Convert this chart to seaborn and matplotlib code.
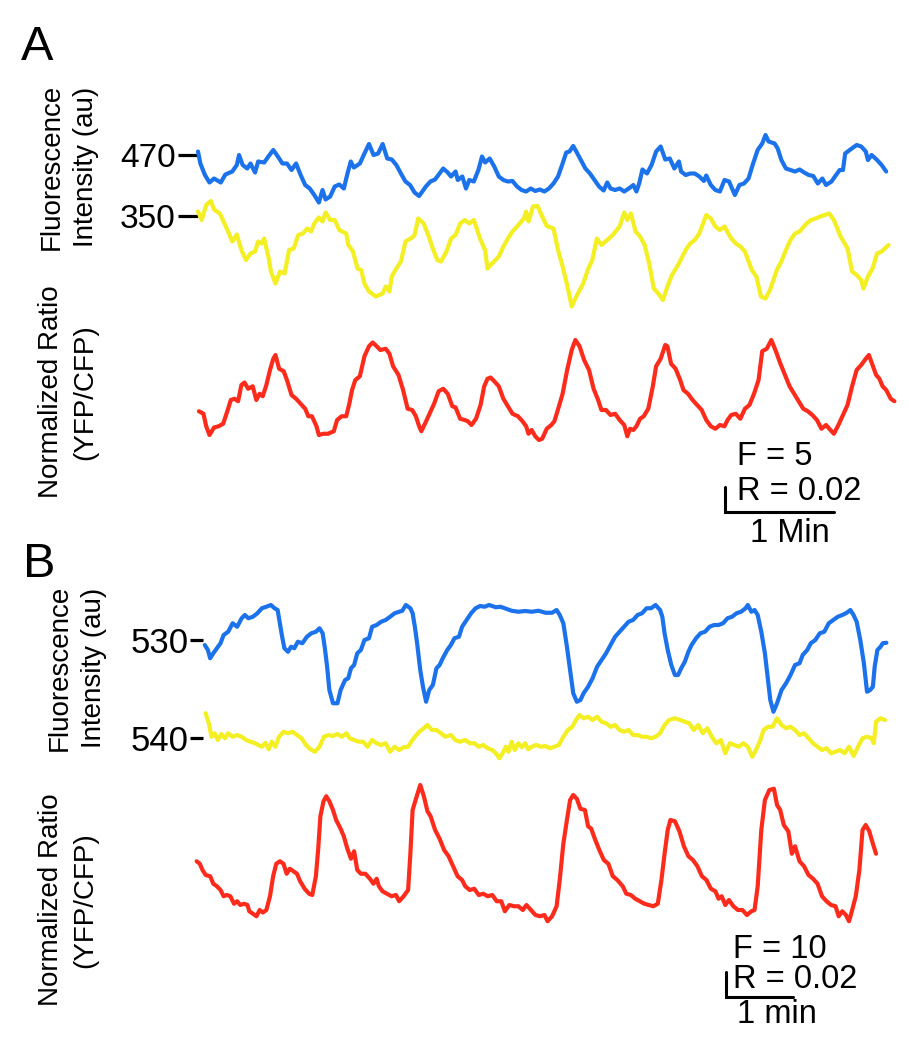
import matplotlib
matplotlib.use("Agg")
import matplotlib.pyplot as plt
import numpy as np
import seaborn as sns

# ---------------- data (time in s, intensity in au, ratio normalized) ----------------
a_blue_t = [0, 1.3, 3.8, 6.3, 8.8, 12.5, 15, 18.8, 21.3, 22.5,
            24.5, 27, 28.8, 31.3, 33, 36.3, 38.8, 41.3, 43.8, 46.3,
            48.8, 51.3, 53.8, 56.3, 58.8, 61.3, 63.8, 66.3, 68.3, 70,
            72.5, 75, 77.5, 80, 82, 83.8, 85.5, 88.8, 91.3, 93.8,
            96.3, 98.8, 101.3, 103.8, 106.3, 108.8, 111.3, 113.8, 116.3, 118.8,
            121.3, 125, 127.5, 130, 132.5, 134.5, 137, 138.8, 141.3, 142.5,
            145, 147, 148.8, 151.3, 153.8, 155.8, 157.5, 160, 162.5, 165,
            167.5, 170, 172.5, 175, 177.5, 180, 182.5, 185, 187.5, 190,
            192.5, 195, 197.5, 200, 202, 203.8, 205.8, 207.5, 210, 212.5,
            215, 217.5, 220, 222.5, 224.5, 226.3, 228.8, 231.3, 233.8, 236.3,
            238.8, 240.5, 242, 243.8, 246.3, 248.8, 251.3, 253.8, 256.3, 258.8,
            261.3, 263.8, 265, 267.5, 270, 272.5, 275, 277.5, 278.8, 281.3,
            283.8, 286.3, 288.8, 291.3, 294.5, 297, 299.5, 302, 304.5, 307,
            309.5, 311.3, 313, 316.3, 318, 320, 322.5, 325, 327.5, 330,
            332.5, 335, 337.5, 340, 342.5, 344.5, 347.5, 350, 352, 353.8,
            355, 357.5, 361.3, 363.8, 366.3, 367.5, 369.5, 372.5, 375, 377.5]
a_blue_v = [470.7, 468.3, 466.0, 464.5, 465.3, 464.5, 466.1, 466.7, 468.0, 470.0,
            468.0, 467.3, 468.3, 466.5, 468.7, 468.5, 469.8, 471.0, 469.7, 468.3,
            468.3, 467.0, 468.3, 466.0, 464.0, 463.3, 462.0, 460.5, 463.0, 461.1,
            461.7, 463.7, 464.1, 463.3, 466.3, 468.7, 467.5, 468.3, 470.3, 472.2,
            470.0, 470.3, 472.2, 469.3, 469.1, 468.0, 466.3, 464.7, 464.0, 462.5,
            461.8, 463.7, 464.7, 465.1, 466.3, 467.3, 466.5, 465.7, 466.7, 465.0,
            465.7, 463.3, 465.0, 464.7, 467.0, 469.7, 468.5, 469.3, 467.7, 465.7,
            465.0, 464.7, 464.8, 463.7, 463.0, 462.7, 463.3, 462.8, 463.1, 462.7,
            463.3, 464.3, 465.7, 468.3, 470.5, 470.7, 471.8, 470.7, 469.0, 467.3,
            466.3, 465.0, 463.7, 462.9, 464.5, 463.3, 463.0, 463.3, 462.7, 463.3,
            464.0, 462.7, 464.3, 467.1, 466.3, 468.0, 470.7, 471.7, 469.1, 469.3,
            467.3, 468.7, 466.7, 466.0, 466.3, 466.3, 465.7, 464.8, 465.9, 464.0,
            463.0, 462.7, 465.0, 464.7, 462.0, 464.0, 464.3, 465.3, 468.3, 471.0,
            472.3, 474.0, 472.7, 472.3, 471.3, 469.0, 467.3, 467.0, 466.7, 467.1,
            466.5, 466.0, 465.8, 464.3, 465.3, 464.0, 464.7, 466.0, 467.0, 467.0,
            470.3, 471.0, 472.0, 471.7, 470.7, 469.0, 470.0, 469.0, 468.0, 466.7]

a_yellow_t = [0, 2, 4.5, 7, 8.8, 12, 14.5, 17, 18.8, 21.3,
              23.8, 26.3, 28.8, 31.3, 33, 35, 36.3, 38.8, 40, 42.5,
              45, 47.5, 50, 52.5, 55, 57.5, 60, 62, 63.8, 66.3,
              68.3, 70, 72.5, 75, 77.5, 81.3, 82.5, 85, 87.5, 89.5,
              91.3, 93.8, 97.5, 101.3, 103, 105, 106.3, 108.8, 111.3, 113.8,
              117.5, 118.8, 120.8, 123.8, 126.3, 128.8, 131.3, 133.3, 136.3, 138.8,
              141.3, 143.8, 146.3, 148.8, 151.3, 155, 157.5, 158.8, 161.3, 165,
              167.5, 170, 172.5, 175, 178.8, 180, 181.3, 183.8, 186.3, 188.8,
              191.3, 195, 197.5, 200, 202.5, 205, 207.5, 211.3, 213.8, 216.3,
              218.8, 221.3, 224.5, 227.5, 231.3, 233.8, 235.5, 237.5, 240, 242.5,
              245, 247.5, 250, 252.5, 255, 257.5, 260, 263.8, 267.5, 270,
              272.5, 275, 278.8, 281.3, 283.8, 286.3, 288.8, 292.5, 295, 297.5,
              300, 303.8, 306.3, 308.8, 311.3, 313.8, 317.5, 320, 322.5, 325,
              327.5, 330, 333.8, 336.3, 338.8, 341.3, 343.8, 346.3, 348.8, 352.5,
              356.3, 358.8, 361.3, 363.8, 365, 367.5, 370, 372.5, 375, 378.8]
a_yellow_v = [350.9, 349.2, 352.2, 353.0, 351.3, 350.5, 348.5, 346.5, 344.9, 346.3,
              343.2, 341.2, 342.5, 342.9, 344.9, 344.5, 345.5, 341.5, 338.9, 336.5,
              338.9, 338.5, 343.2, 343.5, 346.2, 346.5, 347.5, 346.9, 348.5, 349.7,
              348.9, 350.7, 349.2, 349.2, 347.2, 346.5, 344.2, 342.9, 339.5, 339.2,
              336.5, 334.9, 333.9, 334.5, 335.9, 334.9, 337.9, 339.5, 340.9, 344.9,
              345.7, 346.2, 349.5, 348.5, 346.2, 343.5, 341.2, 340.9, 342.9, 345.5,
              346.2, 348.5, 349.2, 348.5, 349.2, 345.2, 343.2, 339.5, 340.5, 341.9,
              343.9, 345.5, 346.9, 347.9, 349.5, 350.9, 348.9, 351.9, 352.0, 349.9,
              348.0, 347.5, 343.2, 339.9, 336.2, 331.9, 333.9, 336.5, 339.2, 341.2,
              345.5, 344.2, 345.2, 346.2, 347.9, 350.7, 349.2, 350.5, 346.9, 345.9,
              344.2, 340.5, 335.5, 334.5, 333.2, 335.9, 338.2, 340.5, 343.2, 344.5,
              345.2, 346.5, 350.2, 349.5, 347.9, 347.2, 347.9, 345.5, 344.5, 343.9,
              342.9, 339.2, 337.9, 333.9, 333.5, 335.2, 339.2, 340.9, 343.2, 345.2,
              346.5, 346.9, 348.5, 349.2, 349.5, 349.9, 350.2, 350.5, 349.2, 345.9,
              343.5, 338.9, 338.2, 337.2, 335.5, 337.9, 339.5, 342.5, 342.9, 344.2]

a_red_t = [0.5, 3, 4.5, 6.3, 8.8, 11.3, 13.8, 16.3, 18, 20,
           22, 23.8, 25.5, 27.5, 30, 32, 33.8, 35.5, 37.5, 39.5,
           41.3, 42.5, 44.5, 47, 48.8, 51.3, 53.8, 56.3, 58.8, 60.5,
           62.5, 65, 66.3, 68.8, 71.3, 74.5, 76.3, 78.8, 81.3, 83,
           84.5, 86.3, 88.8, 91.3, 93.8, 95.8, 98, 100, 103, 105,
           107, 110, 112.5, 115, 117.5, 119.5, 121.3, 122.5, 124.5, 127,
           129.5, 132, 134.5, 137, 139.5, 141.3, 143.8, 146.3, 148, 150,
           152.5, 155, 157, 158.8, 160.5, 162.5, 165, 167.5, 170, 172.5,
           175.5, 178, 180, 181.3, 183, 185, 187, 188.8, 191.3, 193.8,
           195.5, 198, 200, 202.5, 205, 207, 209.3, 211.8, 214.5, 217,
           219.5, 221.3, 223.8, 226.3, 228.8, 231.3, 233.8, 235.5, 237, 238.8,
           240.5, 242.5, 244.5, 247, 249.5, 251.3, 253.8, 256.3, 257.5, 259.5,
           262, 264.5, 266.3, 268.8, 271.3, 273.8, 276.3, 278.8, 281.3, 283.8,
           286.3, 288.8, 290.5, 292.5, 295, 297.5, 300, 302.5, 305, 307.5,
           309.5, 312, 314.5, 317, 319.5, 322, 324.5, 327, 329.5, 332,
           334.5, 337, 339.5, 342, 344.5, 346.3, 348.8, 351.3, 353.8, 356.3,
           358.8, 361.3, 363.8, 366.3, 368, 370, 372, 373.8, 375.5, 377.5,
           380, 382]
a_red_v = [1.027, 1.025, 1.015, 1.008, 1.014, 1.015, 1.017, 1.028, 1.036, 1.037,
           1.035, 1.048, 1.050, 1.045, 1.047, 1.036, 1.041, 1.039, 1.048, 1.060,
           1.069, 1.072, 1.061, 1.059, 1.052, 1.040, 1.037, 1.033, 1.029, 1.023,
           1.023, 1.015, 1.008, 1.009, 1.009, 1.011, 1.020, 1.023, 1.023, 1.033,
           1.044, 1.052, 1.055, 1.071, 1.079, 1.082, 1.079, 1.076, 1.077, 1.073,
           1.063, 1.056, 1.044, 1.029, 1.028, 1.023, 1.015, 1.011, 1.017, 1.025,
           1.033, 1.043, 1.045, 1.041, 1.031, 1.030, 1.021, 1.020, 1.019, 1.016,
           1.021, 1.032, 1.047, 1.053, 1.054, 1.051, 1.047, 1.037, 1.031, 1.025,
           1.023, 1.019, 1.015, 1.009, 1.012, 1.007, 1.004, 1.005, 1.013, 1.016,
           1.019, 1.031, 1.041, 1.060, 1.076, 1.084, 1.079, 1.068, 1.060, 1.045,
           1.036, 1.028, 1.028, 1.024, 1.025, 1.020, 1.016, 1.007, 1.013, 1.012,
           1.015, 1.021, 1.023, 1.029, 1.047, 1.063, 1.069, 1.080, 1.079, 1.065,
           1.061, 1.052, 1.044, 1.041, 1.036, 1.032, 1.028, 1.020, 1.015, 1.013,
           1.016, 1.015, 1.020, 1.024, 1.025, 1.021, 1.029, 1.032, 1.041, 1.052,
           1.075, 1.077, 1.084, 1.075, 1.065, 1.056, 1.047, 1.041, 1.035, 1.029,
           1.027, 1.024, 1.020, 1.013, 1.016, 1.013, 1.009, 1.016, 1.024, 1.032,
           1.047, 1.060, 1.064, 1.069, 1.072, 1.064, 1.056, 1.053, 1.047, 1.044,
           1.037, 1.035]

b_blue_t = [6, 8.8, 10.8, 13.6, 16.8, 20, 22.8, 26.8, 30.8, 34.8,
            38.8, 41.6, 44.8, 48.8, 52.8, 56.8, 60.8, 64.8, 68, 70.8,
            72.8, 74.8, 76.8, 80, 82.8, 85.6, 88.8, 92.8, 96.8, 100.8,
            104.8, 108, 110.8, 112.8, 114.8, 116.8, 120, 124, 126.8, 130.8,
            133.6, 136, 138.8, 141.6, 144.8, 148, 152, 154.8, 158.8, 162.8,
            166.8, 170.8, 174.8, 178.8, 181.6, 184.8, 188.8, 190.8, 192.8, 194.8,
            197.6, 200, 202.8, 205.6, 208.8, 212, 214.8, 217.6, 221.6, 224.8,
            228, 232, 234.8, 238.8, 242.8, 246.8, 250.8, 254.8, 258.8, 264.8,
            268.8, 272.8, 278.8, 284.8, 290.8, 296.8, 302.8, 308.8, 314.8, 318.8,
            321.6, 324.8, 328, 330.8, 333.6, 336.8, 340, 342.8, 346.8, 350.8,
            354.8, 358.8, 362.8, 366.8, 370.8, 374.8, 378.8, 382.8, 386.8, 390.8,
            394.8, 398.8, 402.8, 406.8, 410.8, 412.8, 414.8, 417.6, 420.8, 424,
            426.8, 429.6, 432.8, 436, 438.8, 442.8, 446.8, 450.8, 454.8, 458.8,
            462.8, 466.8, 470.8, 474.8, 478.8, 482.8, 486.8, 488.8, 492, 494.8,
            497.6, 500.8, 504, 506.8, 508.8, 511.6, 514.8, 518.8, 522.8, 526.8,
            530.8, 534.8, 537.6, 541.6, 544.8, 548.8, 552.8, 556.8, 560.8, 564.8,
            568.8, 572.8, 576.8, 580, 582.8, 585.6, 588.8, 592, 594.8, 597.6,
            600, 601.6, 604, 606.8, 608.8, 612]
b_blue_v = [528.0, 526.0, 522.7, 524.7, 526.7, 528.7, 532.0, 533.3, 536.7, 535.3,
            538.7, 540.0, 538.7, 539.3, 540.7, 542.7, 543.3, 544.0, 542.7, 542.0,
            536.7, 531.3, 526.7, 525.3, 527.3, 526.7, 529.3, 528.7, 531.3, 532.7,
            533.3, 534.7, 532.7, 526.7, 519.3, 510.0, 504.7, 504.7, 510.0, 514.0,
            514.7, 518.7, 520.0, 524.7, 526.0, 530.0, 530.7, 535.3, 536.0, 537.3,
            538.0, 539.3, 540.7, 541.3, 541.7, 544.0, 542.7, 540.7, 535.3, 528.7,
            518.0, 511.3, 505.3, 510.0, 512.0, 518.7, 520.0, 522.7, 526.0, 528.0,
            530.7, 531.3, 535.3, 538.0, 540.7, 542.7, 543.6, 543.3, 544.0, 543.1,
            543.3, 542.7, 541.7, 541.3, 541.6, 541.3, 541.7, 540.9, 540.9, 542.0,
            540.0, 536.7, 527.3, 518.0, 508.7, 505.3, 506.0, 508.7, 511.3, 514.7,
            519.3, 522.0, 524.7, 528.0, 531.3, 533.3, 535.3, 537.3, 538.0, 540.0,
            540.7, 542.7, 542.7, 544.0, 542.0, 539.3, 532.7, 526.0, 520.0, 516.0,
            516.0, 518.7, 521.3, 525.3, 528.0, 530.7, 532.7, 533.3, 535.3, 536.0,
            536.0, 536.7, 538.7, 539.3, 540.7, 541.3, 542.7, 544.0, 541.3, 542.0,
            540.0, 533.3, 524.7, 514.0, 506.0, 501.3, 504.7, 510.0, 512.7, 516.0,
            520.0, 520.7, 524.0, 526.0, 528.7, 530.0, 532.7, 533.3, 536.7, 538.0,
            539.3, 540.0, 540.9, 542.0, 540.0, 537.3, 530.0, 520.7, 509.3, 510.0,
            511.3, 519.3, 526.0, 527.3, 528.7, 528.9]

b_yellow_t = [6.8, 9.6, 12, 14.8, 17.6, 20.8, 24, 26.8, 30.8, 34.8,
              38.8, 42.8, 46.8, 50.8, 53.6, 56.8, 60, 62.8, 65.6, 68.8,
              72, 76, 80, 84, 88, 92, 96, 100, 104, 108,
              112, 116, 120, 124, 128, 132, 134.8, 138.8, 142.8, 146.8,
              150.8, 154.8, 158.8, 162.8, 166.8, 170.8, 174.8, 178.8, 182.8, 186.8,
              189.6, 192.8, 196.8, 200.8, 204, 208, 212, 216, 220, 224.8,
              228.8, 232.8, 237.6, 241.6, 245.6, 249.6, 253.6, 257.6, 261.6, 264.8,
              268, 270.8, 273.6, 276, 278.8, 281.6, 284.8, 288, 290.8, 293.6,
              296.8, 300.8, 304.8, 308.8, 312.8, 316.8, 320.8, 324.8, 328.8, 332.8,
              336, 339.2, 342.8, 346.8, 350.8, 354.8, 358.8, 362.8, 366.8, 370.8,
              374.8, 378.8, 382.8, 386.8, 390.8, 394.8, 398.8, 402.8, 406.8, 410.8,
              414.8, 418.8, 424, 428.8, 432.8, 436.8, 440.8, 444.8, 448.8, 452.8,
              456.8, 460.8, 464.8, 468.8, 472.8, 476.8, 480.8, 484.8, 488.8, 492.8,
              496, 500, 502.8, 506.8, 510.8, 514.8, 518.8, 522.8, 526.8, 530.8,
              534.8, 538.8, 542.8, 546.8, 550.8, 554.8, 558.8, 562.8, 566.8, 570.8,
              574.8, 578.8, 582.8, 586.8, 590.8, 594.8, 598.8, 600.8, 602.8, 606.8,
              610.8]
b_yellow_v = [549.9, 545.9, 540.5, 541.9, 539.2, 541.6, 539.9, 541.9, 540.5, 541.2,
              540.5, 539.2, 538.5, 537.9, 537.2, 536.5, 538.1, 535.5, 538.5, 536.5,
              540.5, 542.5, 541.9, 542.5, 541.2, 539.9, 537.2, 535.5, 534.5, 536.5,
              540.5, 541.2, 540.8, 541.6, 540.5, 541.9, 539.9, 539.2, 538.5, 538.5,
              536.5, 539.2, 537.9, 537.2, 537.9, 534.5, 536.5, 535.2, 536.3, 536.5,
              538.5, 540.5, 542.5, 543.9, 545.2, 543.2, 543.2, 541.9, 540.5, 541.2,
              539.2, 538.5, 539.2, 537.9, 537.9, 536.5, 537.2, 535.9, 535.2, 533.9,
              531.9, 533.9, 536.5, 534.5, 538.5, 535.2, 537.9, 536.3, 537.9, 535.5,
              536.5, 537.2, 536.5, 536.8, 535.9, 536.5, 537.2, 540.5, 543.2, 544.5,
              547.2, 549.2, 547.9, 548.5, 547.2, 548.5, 546.5, 545.9, 544.5, 545.2,
              543.2, 542.5, 543.2, 541.2, 541.2, 540.5, 540.5, 539.9, 540.5, 541.9,
              545.2, 547.2, 547.9, 547.2, 546.5, 545.9, 543.2, 545.2, 541.9, 543.9,
              540.5, 537.9, 539.2, 533.9, 537.9, 537.2, 536.5, 537.9, 536.5, 532.5,
              535.2, 539.2, 543.2, 544.5, 544.5, 547.9, 545.2, 543.9, 544.5, 543.2,
              541.2, 541.9, 539.9, 537.9, 536.5, 535.2, 535.9, 533.9, 534.5, 535.2,
              533.9, 536.5, 532.8, 536.5, 539.9, 540.5, 539.9, 537.9, 546.5, 547.9,
              547.2]

b_red_t = [-1.2, 1.6, 4, 6.8, 10.8, 13.6, 16.8, 20, 22.8, 25.6,
           28.8, 32, 34.8, 37.6, 40.8, 44, 45.6, 48.8, 52, 54.8,
           57.6, 60.8, 64, 66.8, 69.6, 72.8, 76, 78.8, 81.6, 84.8,
           88, 90.8, 94.8, 98.8, 101.6, 104.8, 106.8, 108.8, 111.6, 114,
           116.8, 120, 122.8, 126.8, 129.6, 132.8, 136, 138.8, 141.6, 144.8,
           148.8, 152.8, 156, 158.8, 160.8, 164, 168, 172, 176, 178.8,
           182.8, 186.8, 188.8, 190.8, 194.8, 197.6, 200.8, 204, 206.8, 210.8,
           214.8, 218.8, 222.8, 226.8, 230.8, 234.8, 237.6, 241.6, 245.6, 249.6,
           253.6, 257.6, 261.6, 265.6, 269.6, 272.8, 276.8, 280.8, 284.8, 288.8,
           292, 296, 300, 304, 308, 310.8, 314.8, 318.8, 321.6, 324.8,
           328, 330.8, 333.6, 336.8, 340, 344, 346.8, 349.6, 352.8, 356.8,
           360.8, 364.8, 368.8, 372.8, 377.6, 380.8, 384.8, 388.8, 392.8, 396.8,
           400.8, 404.8, 408.8, 412, 414.8, 417.6, 420, 424, 428, 432,
           436, 440, 444, 448, 452, 456, 460, 462.8, 465.6, 468.8,
           472, 476, 480, 484, 488, 492, 494.8, 497.6, 500.8, 504,
           508, 512, 514.8, 517.6, 520.8, 524.8, 528, 530.8, 534.8, 538.8,
           542.8, 546.8, 550.8, 554.8, 558.8, 562.8, 566.8, 569.6, 572.8, 576,
           578.8, 581.6, 584.8, 588, 590.8, 593.6, 596.8, 600, 602.8]
b_red_v = [1.047, 1.045, 1.040, 1.036, 1.035, 1.029, 1.027, 1.024, 1.019, 1.020,
           1.019, 1.013, 1.015, 1.012, 1.013, 1.012, 1.007, 1.005, 1.003, 1.008,
           1.006, 1.008, 1.019, 1.035, 1.045, 1.047, 1.045, 1.037, 1.041, 1.039,
           1.037, 1.031, 1.025, 1.021, 1.020, 1.035, 1.056, 1.083, 1.095, 1.099,
           1.095, 1.088, 1.080, 1.073, 1.067, 1.057, 1.049, 1.055, 1.040, 1.037,
           1.037, 1.033, 1.029, 1.033, 1.027, 1.023, 1.021, 1.019, 1.020, 1.015,
           1.019, 1.024, 1.053, 1.088, 1.100, 1.108, 1.099, 1.087, 1.083, 1.072,
           1.065, 1.056, 1.051, 1.043, 1.035, 1.032, 1.027, 1.024, 1.025, 1.020,
           1.021, 1.019, 1.020, 1.015, 1.015, 1.007, 1.012, 1.011, 1.011, 1.008,
           1.012, 1.008, 1.004, 1.003, 1.004, 0.999, 1.003, 1.011, 1.032, 1.061,
           1.080, 1.096, 1.100, 1.097, 1.089, 1.088, 1.075, 1.073, 1.065, 1.056,
           1.048, 1.045, 1.035, 1.032, 1.027, 1.021, 1.020, 1.017, 1.015, 1.013,
           1.012, 1.011, 1.013, 1.032, 1.053, 1.072, 1.080, 1.079, 1.071, 1.059,
           1.051, 1.048, 1.043, 1.035, 1.032, 1.025, 1.023, 1.017, 1.019, 1.012,
           1.016, 1.011, 1.008, 1.008, 1.004, 1.007, 1.008, 1.027, 1.072, 1.096,
           1.104, 1.105, 1.092, 1.088, 1.076, 1.071, 1.053, 1.059, 1.047, 1.043,
           1.036, 1.033, 1.029, 1.019, 1.015, 1.012, 1.011, 1.003, 1.007, 1.004,
           0.999, 1.008, 1.019, 1.040, 1.072, 1.076, 1.071, 1.061, 1.053]

panel_labels = ["A", "B"]
a_ticks = [470, 350]
b_ticks = [530, 540]
ylabel_fluo = "Fluorescence\nIntensity (au)"
ylabel_ratio = "Normalized Ratio\n(YFP/CFP)"
a_scale_texts = ["F = 5", "R = 0.02", "1 Min"]
b_scale_texts = ["F = 10", "R = 0.02", "1 min"]

BLUE = "#1b72ea"
YELLOW = "#f3ef22"
RED = "#fd2b1c"

# ---------------- figure ----------------
sns.set_style("white")
plt.rcParams["font.family"] = ["Liberation Sans", "DejaVu Sans"]
plt.rcParams["text.color"] = "black"
plt.rcParams["ytick.color"] = "black"
plt.rcParams["ytick.labelcolor"] = "black"

W, H = 909, 1050
fig = plt.figure(figsize=(W / 100, H / 100), dpi=100)


def trace_axes(x0, x1, y0, y1, t0_px, px_per_s, v_ref, y_ref, px_per_unit):
    ax = fig.add_axes([x0 / W, 1 - y1 / H, (x1 - x0) / W, (y1 - y0) / H])
    ax.patch.set_alpha(0)
    for s in ax.spines.values():
        s.set_visible(False)
    ax.set_xticks([])
    ax.set_yticks([])
    ax.set_xlim((x0 - t0_px) / px_per_s, (x1 - t0_px) / px_per_s)
    ax.set_ylim(v_ref + (y_ref - y1) / px_per_unit, v_ref + (y_ref - y0) / px_per_unit)
    return ax


def draw(ax, t, v, color):
    sns.lineplot(x=np.asarray(t), y=np.asarray(v), ax=ax, color=color,
                 linewidth=3.0, sort=False, estimator=None, legend=False)
    for ln in ax.lines:
        ln.set_clip_on(False)
        ln.set_solid_joinstyle("round")


def tick(ax, value, length_pt, pad_pt, size):
    ax.set_yticks([value])
    ax.set_yticklabels([str(value)])
    ax.tick_params(axis="y", left=True, length=length_pt, width=2.3, pad=pad_pt,
                   labelsize=size, color="black", labelcolor="black")


PXS_A = 1.823
PXS_B = 1.1248

ax_ab = trace_axes(198, 900, 110, 215, 198, PXS_A, a_ticks[0], 155, 5.0)
draw(ax_ab, a_blue_t, a_blue_v, BLUE)
tick(ax_ab, a_ticks[0], 14.4, 1.5, 24)

ax_ay = trace_axes(198, 900, 190, 320, 198, PXS_A, a_ticks[1], 216, 5.0)
draw(ax_ay, a_yellow_t, a_yellow_v, YELLOW)
tick(ax_ay, a_ticks[1], 14.4, 1.5, 24)

ax_ar = trace_axes(198, 900, 320, 540, 198, PXS_A, 1.1, 320, 1250.0)
draw(ax_ar, a_red_t, a_red_v, RED)

ax_bb = trace_axes(203, 900, 585, 730, 198, PXS_B, b_ticks[0], 640, 2.5)
draw(ax_bb, b_blue_t, b_blue_v, BLUE)
tick(ax_bb, b_ticks[0], 9.4, 1.2, 25)

ax_by = trace_axes(203, 900, 700, 790, 198, PXS_B, b_ticks[1], 738, 2.5)
draw(ax_by, b_yellow_t, b_yellow_v, YELLOW)
tick(ax_by, b_ticks[1], 9.4, 1.2, 25)

ax_br = trace_axes(203, 900, 770, 1030, 198, PXS_B, 1.12, 770, 1250.0)
draw(ax_br, b_red_t, b_red_v, RED)


# scale bars (1 min horizontal, R = 0.02 vertical)
def scale_bar(ax, t_start, r_base):
    ax.plot([t_start, t_start, t_start + 60], [r_base + 0.02, r_base, r_base],
            color="black", lw=2.2, solid_joinstyle="miter", clip_on=False)


scale_bar(ax_ar, (725 - 198) / PXS_A, 1.1 - (512 - 320) / 1250.0)
scale_bar(ax_br, (726 - 198) / PXS_B, 1.12 - (997 - 770) / 1250.0)


def ftext(x, y, s, **kw):
    fig.text(x / W, 1 - y / H, s, **kw)


# scale bar texts
ftext(737, 465, a_scale_texts[0], fontsize=23.5, va="baseline")
ftext(737, 500, a_scale_texts[1], fontsize=23.5, va="baseline")
ftext(750, 542, a_scale_texts[2], fontsize=23.5, va="baseline")
ftext(733, 958, b_scale_texts[0], fontsize=23.5, va="baseline")
ftext(733, 988, b_scale_texts[1], fontsize=23.5, va="baseline")
ftext(737, 1023, b_scale_texts[2], fontsize=23.5, va="baseline")

# panel letters
ftext(21, 60, panel_labels[0], fontsize=35, va="baseline")
ftext(23, 577, panel_labels[1], fontsize=35, va="baseline")

# y labels
for xc, yc, s in [(69, 167, ylabel_fluo), (68, 392, ylabel_ratio),
                  (77, 668, ylabel_fluo), (68, 900, ylabel_ratio)]:
    ftext(xc, yc, s, fontsize=20, rotation=90, ha="center", va="center",
          multialignment="center", linespacing=1.4)

fig.savefig("out.png", dpi=100)
